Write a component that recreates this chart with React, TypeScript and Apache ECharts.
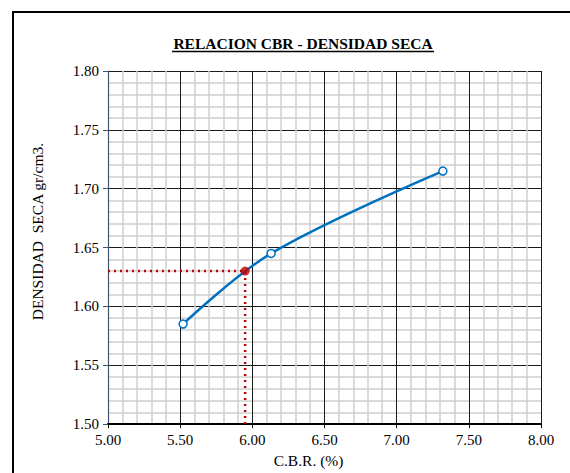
import React, { useEffect, useRef } from "react";
import * as echarts from "echarts";

const cbrValues = [5.52, 6.13, 7.32];
const densityValues = [1.585, 1.645, 1.715];
const designCbr = 5.95;
const designDensity = 1.63;
const xRange = [5.0, 8.0];
const yRange = [1.5, 1.8];
const titleText = "RELACION CBR - DENSIDAD SECA";
const xName = "C.B.R. (%)";
const yName = "DENSIDAD  SECA gr/cm3.";

const FONT = "Liberation Serif";

export default function App() {
  const ref = useRef<HTMLDivElement>(null);
  useEffect(() => {
    if (!ref.current) return;
    const chart = echarts.init(ref.current, null, { renderer: "svg" });
    const curve = cbrValues.map((x, i) => [x, densityValues[i]]);
    chart.setOption({
      animation: false,
      backgroundColor: "#ffffff",
      textStyle: { fontFamily: FONT },
      grid: { left: 108, right: 29, top: 71, bottom: 46 },
      graphic: [
        {
          type: "rect",
          shape: { x: 13, y: 12, width: 620, height: 520 },
          style: { fill: "none", stroke: "#000", lineWidth: 2 },
          z: 0,
        },
        {
          type: "text",
          x: 303,
          y: 43,
          style: {
            text: titleText,
            font: "bold 15.5px " + FONT,
            fill: "#000",
            align: "center",
            verticalAlign: "middle",
          },
        },
        {
          type: "line",
          shape: { x1: 172, y1: 51.5, x2: 434, y2: 51.5 },
          style: { stroke: "#000", lineWidth: 1.3 },
        },
      ],
      xAxis: {
        type: "value",
        min: xRange[0],
        max: xRange[1],
        interval: 0.5,
        name: xName,
        nameLocation: "middle",
        nameGap: 27,
        nameTextStyle: { fontFamily: FONT, fontSize: 15.5, color: "#000", padding: [0, 32, 0, 0] },
        axisLine: { show: true, onZero: false, lineStyle: { color: "#000", width: 2 } },
        axisTick: { show: true, length: 4, lineStyle: { color: "#000" } },
        axisLabel: {
          fontFamily: FONT,
          fontSize: 15,
          color: "#000",
          margin: 8,
          formatter: (v: number) => v.toFixed(2),
        },
        splitLine: { show: true, lineStyle: { color: "#1a1a1a", width: 1 } },
        minorTick: { show: false, splitNumber: 5 },
        minorSplitLine: { show: true, lineStyle: { color: "#cfcfcf", width: 1.5 } },
      },
      yAxis: {
        type: "value",
        min: yRange[0],
        max: yRange[1],
        interval: 0.05,
        name: yName,
        nameLocation: "middle",
        nameGap: 63,
        nameTextStyle: { fontFamily: FONT, fontSize: 15.5, color: "#000", padding: [0, 0, 0, 32] },
        axisLine: { show: true, onZero: false, lineStyle: { color: "#44546a", width: 1.2 } },
        axisTick: { show: true, length: 5, lineStyle: { color: "#44546a" } },
        axisLabel: {
          fontFamily: FONT,
          fontSize: 15,
          color: "#000",
          margin: 9,
          formatter: (v: number) => v.toFixed(2),
        },
        splitLine: { show: true, lineStyle: { color: "#1a1a1a", width: 1 } },
        minorTick: { show: false, splitNumber: 5 },
        minorSplitLine: { show: true, lineStyle: { color: "#cfcfcf", width: 1.5 } },
      },
      series: [
        {
          type: "line",
          data: [
            [xRange[0], designDensity],
            [designCbr, designDensity],
            [designCbr, yRange[0]],
          ],
          symbol: "none",
          lineStyle: { color: "#c00000", width: 2.5, type: [2, 4] },
          z: 3,
        },
        {
          type: "line",
          data: curve,
          smooth: 0.35,
          symbol: "circle",
          symbolSize: 8,
          itemStyle: { color: "#ffffff", borderColor: "#0070c0", borderWidth: 1.5 },
          lineStyle: { color: "#0070c0", width: 2.5 },
          z: 4,
        },
        {
          type: "scatter",
          data: [[designCbr, designDensity]],
          symbol: "circle",
          symbolSize: 9,
          itemStyle: { color: "#c00000" },
          z: 5,
        },
      ],
    });
    return () => chart.dispose();
  }, []);
  return (
    <div
      ref={ref}
      style={{ position: "fixed", left: 0, top: 0, width: 570, height: 473 }}
    />
  );
}
